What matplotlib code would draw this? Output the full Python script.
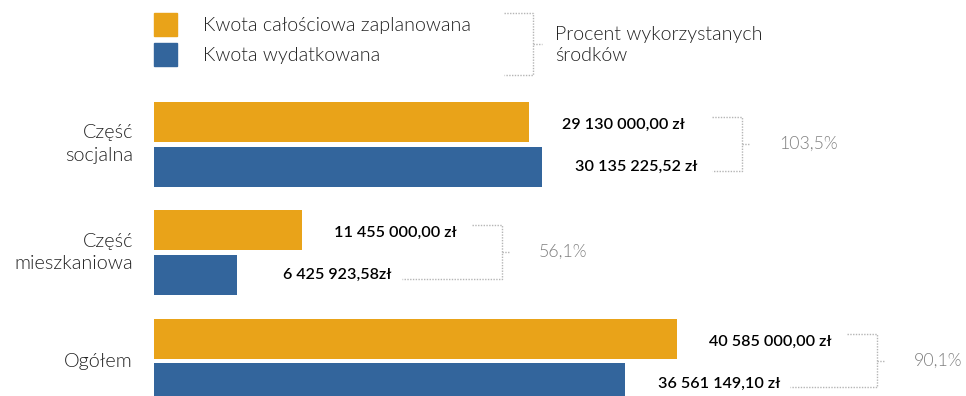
import numpy as np
import matplotlib.pyplot as plt
from matplotlib.lines import Line2D
from matplotlib.patches import Rectangle

categories = ['Część\nsocjalna', 'Część\nmieszkaniowa', 'Ogółem']
planned = [29130000.00, 11455000.00, 40585000.00]
spent = [30135225.52, 6425923.58, 36561149.10]
planned_labels = ['29 130 000,00 zł', '11 455 000,00 zł', '40 585 000,00 zł']
spent_labels = ['30 135 225,52 zł', '6 425 923,58zł', '36 561 149,10 zł']
percent_labels = ['103,5%', '56,1%', '90,1%']
legend_labels = ['Kwota całościowa zaplanowana', 'Kwota wydatkowana']
bracket_title = 'Procent wykorzystanych\nśrodków'

ORANGE = '#E9A319'
BLUE = '#33659C'
TEXT = '#222222'
GREY = '#808080'
DOTS = '#b5b5b5'
FONT = 'Lato'
LIGHT = 300

W, H = 966, 396
fig = plt.figure(figsize=(W / 100, H / 100), dpi=100)
left_px = 154
ax = fig.add_axes([left_px / W, 0, 1 - left_px / W, 1])

# one pixel in data units
px = 40585000 / 523
row = 108.5
ax.set_xlim(0, (W - left_px) * px)
ax.set_ylim((H - 144) / row, -144 / row)
ax.axis('off')

y = np.arange(len(categories))
off = 22.5 / row
h = 40 / row
ax.barh(y - off, planned, height=h, color=ORANGE)
ax.barh(y + off, spent, height=h, color=BLUE)


def dotted(xs, ys, **kw):
    ax.plot(xs, ys, color=DOTS, lw=1, ls=(0, (1, 1)), clip_on=False, **kw)


for i in range(len(categories)):
    yo, yb = y[i] - off, y[i] + off
    ax.text(-21 * px, y[i], categories[i], ha='right', va='center',
            fontsize=14.3, fontfamily=FONT, fontweight=LIGHT, color=TEXT,
            linespacing=1.4)
    lo = planned[i] + 155 * px
    lb = spent[i] + 155 * px
    ax.text(lo, yo + 3 / row, planned_labels[i], ha='right', va='center',
            fontsize=11.6, fontfamily=FONT, fontweight='semibold', color='black')
    ax.text(lb, yb, spent_labels[i], ha='right', va='center',
            fontsize=11.6, fontfamily=FONT, fontweight='semibold', color='black')

    # bracket joining the two values
    bx = max(planned[i], spent[i]) + 200 * px
    top = yo - 5 / row
    bot = yb + 4 / row
    top_start = bx - 30 * px
    bot_start = bx - 30 * px if spent[i] >= planned[i] else lb + 10 * px
    dotted([top_start, bx, bx, bot_start], [top, top, bot, bot])
    mid = (top + bot) / 2
    dotted([bx, bx + 8 * px], [mid, mid])
    ax.text(bx + 37 * px, mid, percent_labels[i], ha='left', va='center',
            fontsize=12.8, fontfamily=FONT, fontweight=LIGHT, color=GREY)

# legend in figure pixel coordinates
def fx(p):
    return p / W


def fy(p):
    return 1 - p / H


for (top, color, label) in [(13, ORANGE, legend_labels[0]), (43, BLUE, legend_labels[1])]:
    fig.add_artist(Rectangle((fx(154), fy(top + 23)), 23 / W, 23 / H,
                             transform=fig.transFigure, color=color))
    fig.text(fx(203), fy(top + 12), label, ha='left', va='center',
             fontsize=14.1, fontfamily=FONT, fontweight=LIGHT, color=TEXT)

legend_bracket = [([504, 533, 533, 504], [13, 13, 75, 75]), ([533, 542], [44, 44])]
for xs, ys in legend_bracket:
    fig.add_artist(Line2D([fx(v) for v in xs], [fy(v) for v in ys],
                          transform=fig.transFigure, color=DOTS, lw=1,
                          ls=(0, (1, 1))))
fig.text(fx(555), fy(45), bracket_title, ha='left', va='center',
         fontsize=14.1, fontfamily=FONT, fontweight=LIGHT, color=TEXT,
         linespacing=1.3)

fig.savefig('out.png', dpi=100)
